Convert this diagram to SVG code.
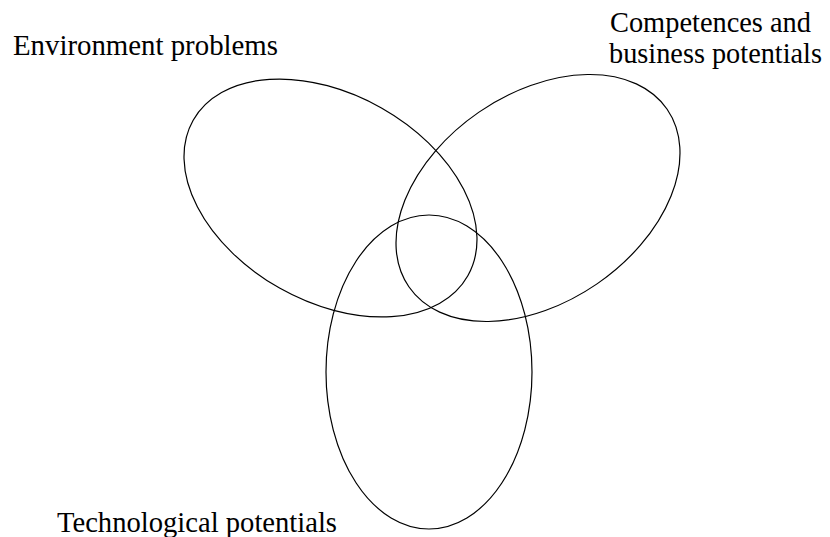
<svg xmlns="http://www.w3.org/2000/svg" width="830" height="537" viewBox="0 0 830 537">
<style>
.set{fill:none;stroke:#000;stroke-width:1.2}
.lbl{font-family:'Liberation Serif','Times New Roman','DejaVu Serif',serif;font-size:29.5px;fill:#000}
</style>
<rect width="830" height="537" fill="#fff"/>
<g id="environment">
<ellipse class="set" cx="330.5" cy="198" rx="157.8" ry="103.5" transform="rotate(29.5 330.5 198)"/>
<text class="lbl" font-family="Liberation Serif, serif" x="13" y="55" textLength="265" lengthAdjust="spacingAndGlyphs">Environment problems</text>
</g>
<g id="competences">
<ellipse class="set" cx="538" cy="198" rx="156.7" ry="104.2" transform="rotate(-34.5 538 198)"/>
<text class="lbl" x="610" y="32" textLength="201" lengthAdjust="spacingAndGlyphs">Competences and</text>
<text class="lbl" x="609" y="63" textLength="213" lengthAdjust="spacingAndGlyphs">business potentials</text>
</g>
<g id="technological">
<ellipse class="set" cx="429" cy="372" rx="103" ry="157"/>
<text class="lbl" x="57" y="532" textLength="280" lengthAdjust="spacingAndGlyphs">Technological potentials</text>
</g>
<g id="connectors"/>
</svg>
